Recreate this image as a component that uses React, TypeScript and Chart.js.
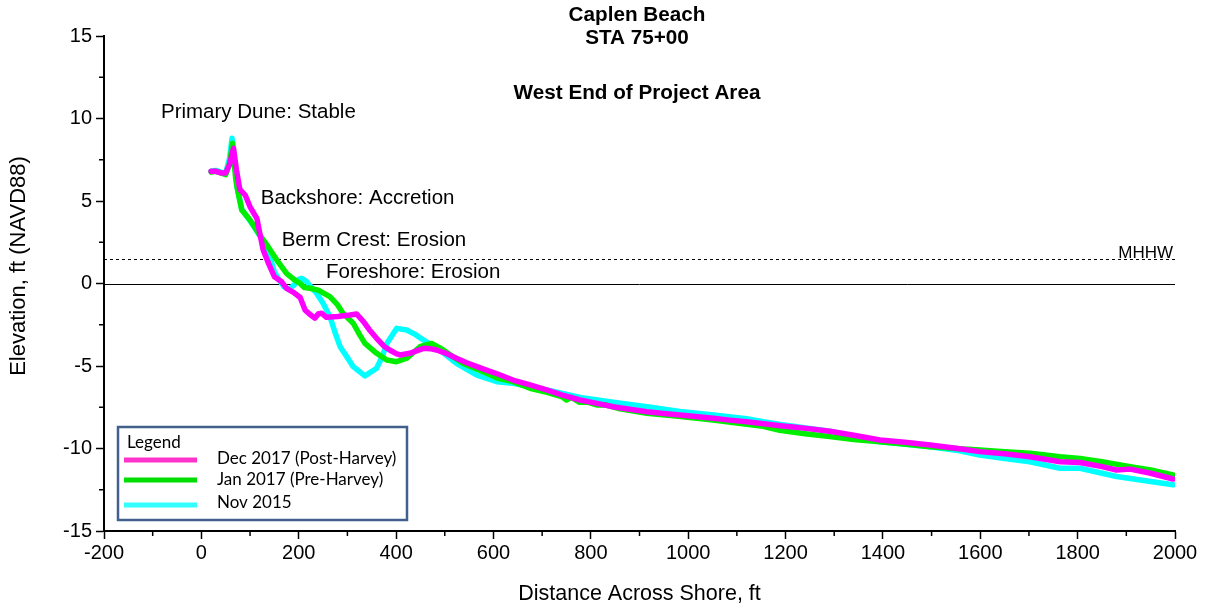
import React, { useEffect, useRef } from 'react';
import { Chart, registerables } from 'chart.js';

Chart.register(...registerables);

// ---- Data ----
const decX = [20, 30, 40, 50, 58, 66, 72, 79, 90, 100, 114, 120, 127, 138, 150, 165, 175, 190, 203, 213, 222, 233, 240, 247, 257, 280, 305, 319, 333, 345, 360, 375, 387, 400, 408, 428, 445, 456, 470, 483, 500, 524, 545, 566, 590, 610, 640, 675, 709, 740, 778, 810, 846, 880, 915, 950, 983, 1020, 1052, 1085, 1120, 1155, 1189, 1215, 1243, 1291, 1340, 1394, 1445, 1497, 1550, 1599, 1650, 1702, 1764, 1805, 1850, 1880, 1908, 1950, 1996];
const decY = [6.8, 6.8, 6.7, 6.7, 7.2, 8.2, 6.9, 5.7, 5.36, 4.65, 3.95, 3.04, 2.03, 1.22, 0.41, 0.1, -0.29, -0.55, -0.85, -1.6, -1.85, -2.1, -1.85, -1.8, -2.05, -2.0, -1.91, -1.85, -2.31, -2.8, -3.32, -3.8, -4.03, -4.25, -4.33, -4.23, -4.05, -3.93, -3.95, -4.03, -4.2, -4.53, -4.8, -5.04, -5.3, -5.5, -5.85, -6.15, -6.45, -6.75, -7.06, -7.25, -7.47, -7.62, -7.77, -7.88, -7.97, -8.07, -8.17, -8.28, -8.38, -8.5, -8.62, -8.7, -8.78, -8.95, -9.2, -9.48, -9.62, -9.79, -9.98, -10.19, -10.32, -10.5, -10.8, -10.85, -11.1, -11.3, -11.25, -11.5, -11.85];

const janX = [20, 30, 40, 50, 58, 64, 70, 73, 83, 100, 110, 120, 137, 155, 175, 190, 203, 212, 223, 240, 264, 280, 291, 312, 325, 336, 360, 381, 401, 422, 449, 473, 497, 520, 538, 579, 610, 640, 675, 710, 740, 750, 760, 777, 795, 812, 830, 860, 915, 980, 1051, 1100, 1154, 1188, 1240, 1291, 1340, 1394, 1450, 1497, 1550, 1599, 1650, 1702, 1764, 1805, 1850, 1908, 1950, 1996];
const janY = [6.75, 6.8, 6.7, 6.6, 7.3, 8.5, 6.5, 5.87, 4.45, 3.85, 3.4, 2.94, 2.23, 1.42, 0.62, 0.25, 0.0, -0.25, -0.29, -0.4, -0.8, -1.3, -1.81, -2.41, -3.1, -3.63, -4.23, -4.64, -4.74, -4.53, -3.83, -3.63, -4.03, -4.5, -4.84, -5.35, -5.75, -5.95, -6.35, -6.6, -6.85, -7.06, -6.9, -7.2, -7.2, -7.36, -7.35, -7.6, -7.87, -8.05, -8.27, -8.45, -8.65, -8.9, -9.1, -9.28, -9.45, -9.59, -9.75, -9.89, -10.0, -10.09, -10.2, -10.29, -10.5, -10.6, -10.8, -11.1, -11.3, -11.6];

const novX = [20, 30, 40, 50, 58, 63, 68, 73, 83, 100, 120, 137, 150, 160, 170, 180, 190, 200, 206, 215, 225, 237, 250, 264, 275, 285, 298, 312, 336, 360, 372, 381, 401, 422, 440, 456, 490, 524, 566, 607, 640, 675, 710, 778, 846, 915, 983, 1052, 1120, 1154, 1189, 1291, 1394, 1497, 1550, 1599, 1650, 1702, 1764, 1805, 1880, 1950, 1996];
const novY = [6.8, 6.85, 6.75, 6.7, 7.6, 8.8, 7.5, 5.9, 4.5, 3.8, 2.9, 2.0, 0.7, 0.2, -0.2, -0.35, -0.1, 0.25, 0.31, 0.15, -0.2, -0.6, -1.2, -2.0, -3.0, -3.83, -4.4, -5.04, -5.6, -5.14, -4.4, -3.63, -2.72, -2.82, -3.1, -3.42, -4.03, -4.84, -5.55, -5.95, -6.05, -6.25, -6.45, -6.9, -7.2, -7.47, -7.75, -7.97, -8.2, -8.38, -8.55, -8.95, -9.59, -9.89, -10.1, -10.4, -10.6, -10.8, -11.2, -11.2, -11.7, -12.0, -12.2];

const seriesNames = ['Dec 2017 (Post-Harvey)', 'Jan 2017 (Pre-Harvey)', 'Nov 2015'];
const xTickValues = [-200, 0, 200, 400, 600, 800, 1000, 1200, 1400, 1600, 1800, 2000];
const xMinorValues = [-100, 100, 300, 500, 700, 900, 1100, 1300, 1500, 1700, 1900];
const yTickValues = [-15, -10, -5, 0, 5, 10, 15];
const yMinorValues = [-12.5, -7.5, -2.5, 2.5, 7.5, 12.5];
const MHHW = 1.5;

const titleLines = ['Caplen Beach', 'STA 75+00', 'West End of Project Area'];
const xAxisTitle = 'Distance Across Shore, ft';
const yAxisTitle = 'Elevation, ft (NAVD88)';
const annotationTexts = ['Primary Dune: Stable', 'Backshore: Accretion', 'Berm Crest: Erosion', 'Foreshore: Erosion'];
const annotationX = [-83, 122, 165, 256];
const annotationY = [10.4, 5.18, 2.64, 0.7];

const lineColors = ['#ff00ff', '#00ee00', '#00ffff'];
const legendColors = ['#ff33cc', '#00dd00', '#33ffff'];

const FONT = '"Liberation Sans", Arial, sans-serif';

const toPoints = (xs: number[], ys: number[]) => xs.map((x, i) => ({ x, y: ys[i] }));

const overlayPlugin = {
  id: 'overlay',
  beforeDatasetsDraw(chart: any) {
    const { ctx, chartArea, scales } = chart;
    const y0 = scales.y.getPixelForValue(0);
    const yM = scales.y.getPixelForValue(MHHW);
    ctx.save();
    ctx.strokeStyle = '#000';
    ctx.lineWidth = 1;
    ctx.beginPath();
    ctx.moveTo(chartArea.left, Math.round(y0) + 0.5);
    ctx.lineTo(chartArea.right, Math.round(y0) + 0.5);
    ctx.stroke();
    ctx.setLineDash([3, 3]);
    ctx.beginPath();
    ctx.moveTo(chartArea.left, Math.round(yM) + 0.5);
    ctx.lineTo(chartArea.right, Math.round(yM) + 0.5);
    ctx.stroke();
    ctx.setLineDash([]);
    ctx.fillStyle = '#000';
    ctx.font = `17px ${FONT}`;
    ctx.textAlign = 'right';
    ctx.textBaseline = 'alphabetic';
    ctx.fillText('MHHW', chartArea.right - 2, yM - 0.5);
    ctx.restore();
  },
  afterDraw(chart: any) {
    const { ctx, chartArea, scales } = chart;
    ctx.save();
    // minor ticks
    ctx.strokeStyle = '#000';
    ctx.lineWidth = 1.5;
    xMinorValues.forEach((v) => {
      const px = scales.x.getPixelForValue(v);
      ctx.beginPath();
      ctx.moveTo(px, chartArea.bottom);
      ctx.lineTo(px, chartArea.bottom + 5);
      ctx.stroke();
    });
    yMinorValues.forEach((v) => {
      const py = scales.y.getPixelForValue(v);
      ctx.beginPath();
      ctx.moveTo(chartArea.left - 5, py);
      ctx.lineTo(chartArea.left, py);
      ctx.stroke();
    });
    // y axis title
    ctx.fillStyle = '#000';
    ctx.save();
    ctx.translate(19, 266);
    ctx.rotate(-Math.PI / 2);
    ctx.font = `22px ${FONT}`;
    ctx.textAlign = 'center';
    ctx.textBaseline = 'middle';
    ctx.fillText(yAxisTitle, 0, 0);
    ctx.restore();
    // titles
    ctx.textAlign = 'center';
    ctx.textBaseline = 'middle';
    ctx.font = `bold 20.7px ${FONT}`;
    const cx = 637;
    ctx.fillText(titleLines[0], cx, 15);
    ctx.fillText(titleLines[1], cx, 38);
    ctx.fillText(titleLines[2], cx, 93);
    // annotations
    ctx.font = `20.5px ${FONT}`;
    ctx.textAlign = 'left';
    annotationTexts.forEach((t, i) => {
      ctx.fillText(t, scales.x.getPixelForValue(annotationX[i]), scales.y.getPixelForValue(annotationY[i]));
    });
    // legend box
    const bx = 118, by = 427, bw = 289, bh = 93;
    ctx.fillStyle = '#fff';
    ctx.fillRect(bx, by, bw, bh);
    ctx.strokeStyle = '#42608c';
    ctx.lineWidth = 2.5;
    ctx.strokeRect(bx, by, bw, bh);
    ctx.fillStyle = '#000';
    ctx.font = '17px Lato, "Open Sans", sans-serif';
    ctx.textAlign = 'left';
    ctx.textBaseline = 'middle';
    ctx.fillText('Legend', 127, 443);
    const rowY = [459, 480, 503];
    const lineY = [460, 480, 505];
    seriesNames.forEach((name, i) => {
      ctx.strokeStyle = legendColors[i];
      ctx.lineWidth = 5;
      ctx.beginPath();
      ctx.moveTo(124, lineY[i]);
      ctx.lineTo(197, lineY[i]);
      ctx.stroke();
      ctx.fillStyle = '#000';
      ctx.fillText(name, 217, rowY[i]);
    });
    ctx.restore();
  },
};

export default function App() {
  const canvasRef = useRef<HTMLCanvasElement | null>(null);

  useEffect(() => {
    const canvas = canvasRef.current;
    if (!canvas) return;
    const datasets = [
      { label: seriesNames[0], data: toPoints(decX, decY), borderColor: lineColors[0] },
      { label: seriesNames[1], data: toPoints(janX, janY), borderColor: lineColors[1] },
      { label: seriesNames[2], data: toPoints(novX, novY), borderColor: lineColors[2] },
    ].map((d) => ({
      ...d,
      borderWidth: 5.5,
      pointRadius: 0,
      tension: 0,
      fill: false,
      borderJoinStyle: 'round' as const,
      borderCapStyle: 'round' as const,
    }));

    const chart = new Chart(canvas, {
      type: 'line',
      data: { datasets },
      plugins: [overlayPlugin],
      options: {
        responsive: false,
        animation: false,
        layout: { padding: { top: 36, right: 33, left: 0, bottom: 0 } },
        plugins: { legend: { display: false }, tooltip: { enabled: false }, title: { display: false } },
        scales: {
          x: {
            type: 'linear',
            min: -200,
            max: 2000,
            afterBuildTicks: (scale: any) => {
              scale.ticks = xTickValues.map((v) => ({ value: v }));
            },
            afterFit: (scale: any) => {
              scale.height = 78;
            },
            ticks: {
              color: '#000',
              font: { family: FONT, size: 20 },
              padding: 2,
              maxRotation: 0,
              autoSkip: false,
              callback: (v: any) => String(v),
            },
            grid: { display: true, drawOnChartArea: false, drawTicks: true, tickLength: 8, tickColor: '#000', tickWidth: 1.5 },
            border: { display: true, color: '#000', width: 2 },
            title: {
              display: true,
              text: xAxisTitle,
              color: '#000',
              font: { family: FONT, size: 21.5 },
              padding: { top: 0, bottom: 2 },
            },
          },
          y: {
            type: 'linear',
            min: -15,
            max: 15,
            afterBuildTicks: (scale: any) => {
              scale.ticks = yTickValues.map((v) => ({ value: v }));
            },
            afterFit: (scale: any) => {
              scale.width = 104;
            },
            ticks: {
              color: '#000',
              font: { family: FONT, size: 20 },
              padding: 4,
              autoSkip: false,
              callback: (v: any) => String(v),
            },
            grid: { display: true, drawOnChartArea: false, drawTicks: true, tickLength: 8, tickColor: '#000', tickWidth: 1.5 },
            border: { display: true, color: '#000', width: 2 },
            title: { display: false },
          },
        },
      },
    });
    return () => chart.destroy();
  }, []);

  return (
    <div style={{ position: 'fixed', left: 0, top: 0, width: 1208, height: 609, background: '#fff' }}>
      <canvas ref={canvasRef} width={1208} height={609} style={{ display: 'block' }} />
    </div>
  );
}
